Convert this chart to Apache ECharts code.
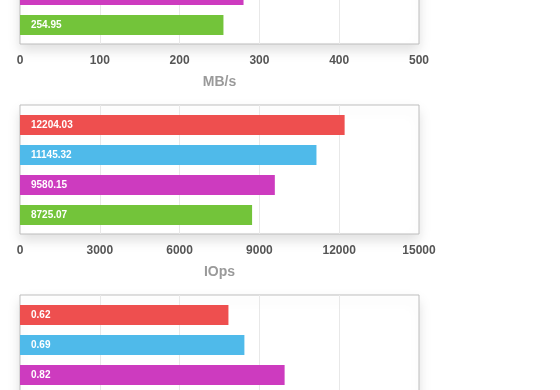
<!DOCTYPE html>
<html><head><meta charset="utf-8">
<script src="https://cdn.jsdelivr.net/npm/echarts@6/dist/echarts.min.js"></script>
<style>html,body{margin:0;padding:0;background:#fff}#c{width:560px;height:390px}</style>
</head><body><div id="c"></div>
<script>
// ---- data ----
const categories = ['Test 1', 'Test 2', 'Test 3', 'Test 4'];
const throughputMBs = [356.6, 325.65, 280.12, 254.95];
const iops = [12204.03, 11145.32, 9580.15, 8725.07];
const latencyBars = [0.653, 0.703, 0.829, 0.9];
const latencyLabels = ['0.62', '0.69', '0.82', '0.90'];
const axisNames = ['MB/s', 'IOps', 'ms'];
const axisMax = [500, 15000, 1.25];
const axisInterval = [100, 3000, 0.25];

// ---- style ----
const barColors = ['#ee4f4f', '#4fbaea', '#cd3bbf', '#73c43a'];
const font = '"Liberation Sans", Arial, Helvetica, sans-serif';
const tops = [-85, 105, 295];

const seriesValues = [throughputMBs, iops, latencyBars];
const labelFormatters = [
  p => throughputMBs[p.dataIndex].toFixed(2),
  p => iops[p.dataIndex].toFixed(2),
  p => latencyLabels[p.dataIndex]
];

const grid = [], xAxis = [], yAxis = [], series = [];
for (let i = 0; i < 3; i++) {
  grid.push({
    left: 20, width: 399, top: tops[i], height: 129, show: true,
    containLabel: false, outerBoundsMode: 'none',
    borderColor: '#bdbdbd', borderWidth: 1, backgroundColor: '#fff',
    shadowColor: 'rgba(0,0,0,0.13)', shadowBlur: 12, shadowOffsetY: 6
  });
  grid.push({ left: 20, width: 399, top: tops[i] + 5, height: 120, containLabel: false, outerBoundsMode: 'none' });
  xAxis.push({
    gridIndex: 2 * i, type: 'value', min: 0, max: axisMax[i], interval: axisInterval[i],
    axisLine: { show: false }, axisTick: { show: false },
    splitLine: { show: true, showMinLine: false, showMaxLine: false, lineStyle: { color: '#e8e8e8' } },
    axisLabel: { color: '#555', fontSize: 12, fontWeight: 'bold', margin: 11, fontFamily: font,
      formatter: v => String(v) },
    name: axisNames[i], nameLocation: 'middle', nameGap: 31,
    nameTextStyle: { color: '#9a9a9a', fontSize: 14, fontWeight: 'bold', fontFamily: font }
  });
  xAxis.push({ gridIndex: 2 * i + 1, type: 'value', min: 0, max: axisMax[i], show: false });
  yAxis.push({ gridIndex: 2 * i, type: 'category', data: categories, show: false });
  yAxis.push({ gridIndex: 2 * i + 1, type: 'category', data: categories, inverse: true, show: false });
  series.push({
    type: 'bar', xAxisIndex: 2 * i + 1, yAxisIndex: 2 * i + 1, barWidth: 20,
    data: seriesValues[i].map((v, j) => ({ value: v, itemStyle: { color: barColors[j] } })),
    label: {
      show: true, position: 'insideLeft', distance: 11, color: '#fff',
      fontSize: 10, fontWeight: 'bold', fontFamily: font, formatter: labelFormatters[i]
    }
  });
}

const chart = echarts.init(document.getElementById('c'), null, { renderer: 'canvas' });
chart.setOption({ animation: false, grid, xAxis, yAxis, series });
</script>
</body></html>
